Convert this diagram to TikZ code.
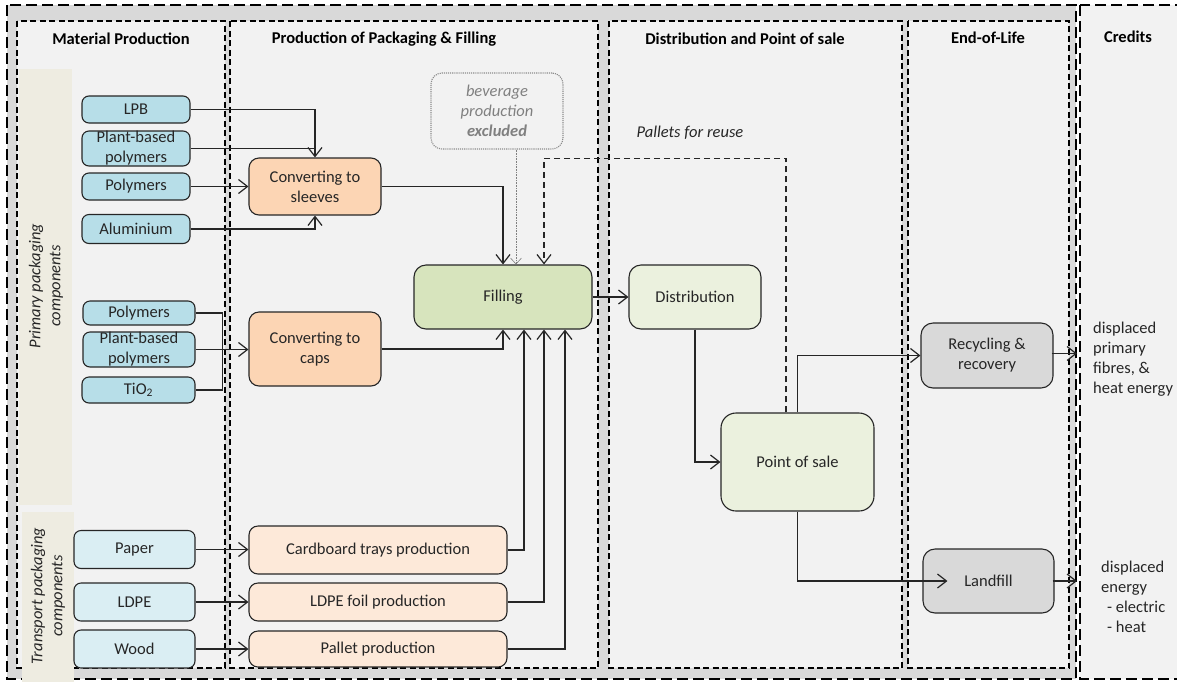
\documentclass[tikz,border=0pt]{standalone}
\usepackage{fontspec}
\setmainfont{Carlito}
\usepackage{tikz}
\usetikzlibrary{arrows.meta,positioning}

\definecolor{txtdark}{HTML}{262626}
\definecolor{outergray}{HTML}{D9D9D9}
\definecolor{panelgray}{HTML}{F2F2F2}
\definecolor{sidebeige}{HTML}{EEECE1}
\definecolor{matblue}{HTML}{B7DEE8}
\definecolor{matlight}{HTML}{DAEEF3}
\definecolor{convorange}{HTML}{FCD5B4}
\definecolor{prodorange}{HTML}{FDE9D9}
\definecolor{fillgreen}{HTML}{D7E4BD}
\definecolor{distgreen}{HTML}{EBF1DE}
\definecolor{eolgray}{HTML}{D9D9D9}
\newcommand{\nodefont}{\fontsize{16.5}{20}\selectfont}

\begin{document}
\begin{tikzpicture}[x=1pt,y=-1pt,
		paneldash/.style={dash pattern=on 6pt off 3.5pt, line width=1.3pt},
		outerdash/.style={dash pattern=on 11pt off 5pt, line width=1.4pt},
		box/.style={draw=txtdark, line width=1.1pt, rounded corners=7pt, align=center, inner sep=0pt, font=\nodefont, text=txtdark},
		matbox/.style={box, fill=matblue, minimum width=108pt},
		tpbox/.style={box, fill=matlight, minimum width=121pt, minimum height=38pt},
		convbox/.style={box, fill=convorange, rounded corners=10pt, minimum width=132pt},
		prodbox/.style={box, fill=prodorange, rounded corners=9pt, minimum width=258pt},
		greenbox/.style={box, rounded corners=12pt},
		eolbox/.style={box, fill=eolgray, rounded corners=12pt, minimum width=132pt, minimum height=65pt},
		head/.style={font=\bfseries\nodefont, text=black},
		sidelabel/.style={rotate=90, align=center, font=\itshape\nodefont, text=txtdark},
		credit/.style={anchor=west, align=left, inner sep=0pt, font=\nodefont, text=txtdark},
		flow/.style={draw=txtdark, line width=1.2pt, -{Straight Barb[length=9pt,width=14pt]}},
		link/.style={draw=txtdark, line width=1.2pt}]
		\useasboundingbox (0,0) rectangle (1177,681);
		\clip (0,0) rectangle (1177,681);
		\fill[white] (0,0) rectangle (1177,681);
		\draw[outerdash, fill=outergray] (7,5) rectangle (1076,679);
		\draw[outerdash, fill=panelgray] (1080,5) rectangle (1195,679);
		\draw[paneldash, fill=panelgray] (17,21) rectangle (225,668);
		\draw[paneldash, fill=panelgray] (230,21) rectangle (598,668);
		\draw[paneldash, fill=panelgray] (609,21) rectangle (902,668);
		\draw[paneldash, fill=panelgray] (908,21) rectangle (1069,668);
		\fill[sidebeige] (19,69) rectangle (72,505);
		\fill[sidebeige] (22,512) rectangle (74,685);

		\node[head] (hmat) at (121,39) {Material Production};
		\node[head] (hprod) at (384,39) {Production of Packaging \& Filling};
		\node[head] (hdist) at (745,39) {Distribution and Point of sale};
		\node[head] (heol) at (988,38) {End-of-Life};
		\node[head] (hcred) at (1128,37) {Credits};
		\node[sidelabel] (lprim) at (46,286) {Primary packaging\\components};
		\node[sidelabel] (ltrans) at (48,596) {Transport packaging\\components};

		\node[matbox, minimum height=27pt] (lpb) at (136,109.5) {LPB};
		\node[matbox, minimum height=35pt] (pbp) at (136,148.5) {Plant-based\\polymers};
		\node[matbox, minimum height=27pt] (poly) at (136,186.5) {Polymers};
		\node[matbox, minimum height=29pt] (alu) at (136,229) {Aluminium};
		\node[matbox, minimum width=112pt, minimum height=24pt] (polyc) at (139,313) {Polymers};
		\node[matbox, minimum width=112pt, minimum height=35pt] (pbpc) at (139,349.5) {Plant-based\\polymers};
		\node[matbox, minimum width=113pt, minimum height=26pt] (tio) at (138.5,390) {TiO\textsubscript{2}};
		\node[tpbox] (paper) at (134.5,549.5) {Paper};
		\node[tpbox] (ldpe) at (134.5,602) {LDPE};
		\node[tpbox] (wood) at (134.5,649) {Wood};

		\node[convbox, minimum height=57pt] (sleeves) at (315,186.5) {Converting to\\sleeves};
		\node[convbox, minimum height=74pt] (caps) at (315,349) {Converting to\\caps};
		\node[prodbox, minimum height=48pt] (trays) at (378,550) {Cardboard trays production};
		\node[prodbox, minimum height=38pt] (foil) at (378,602) {LDPE foil production};
		\node[prodbox, minimum height=36pt] (pallet) at (378,649) {Pallet production};
		\node[greenbox, fill=fillgreen, minimum width=178pt, minimum height=64pt] (filling) at (503,297) {Filling};
		\node[draw=gray!90, densely dotted, line width=1.1pt, rounded corners=11pt, minimum width=132pt, minimum height=76pt, align=center, inner sep=0pt, text=gray, font=\itshape\nodefont] (excl) at (497,111) {beverage\\production\\\textbf{excluded}};

		\node[greenbox, fill=distgreen, minimum width=132pt, minimum height=64pt] (distr) at (695,297) {Distribution};
		\node[greenbox, fill=distgreen, rounded corners=15pt, minimum width=153pt, minimum height=98pt] (pos) at (797.5,462) {Point of sale};
		\node[font=\itshape\nodefont, text=txtdark] (reuse) at (690,133) {Pallets for reuse};
		\node[eolbox] (recyc) at (987,355.5) {Recycling \&\\recovery};
		\node[eolbox, minimum width=131pt, minimum height=64pt] (landfill) at (988.5,581) {Landfill};
		\node[credit] (cfib) at (1093,359) {displaced\\primary\\fibres, \&\\heat energy};
		\node[credit] (cen) at (1101,596.5) {displaced\\energy\\\hspace*{6pt}- electric\\\hspace*{6pt}- heat};
		\coordinate (credin) at (1077,0);

		\draw[flow] (lpb.east) -| (sleeves.north);
		\draw[link] (pbp.east) -- (pbp.east -| sleeves.north);
		\draw[flow] (poly.east) -- (poly.east -| sleeves.west);
		\draw[flow] (alu.east) -| (sleeves.south);
		\draw[link] (polyc.east) -- ++(27,0) coordinate (capsjoin) -- (capsjoin |- tio.east) -- (tio.east);
		\draw[flow] (pbpc.east) -- (pbpc.east -| caps.west);
		\draw[flow] (paper.east) -- (paper.east -| trays.west);
		\draw[flow] (ldpe.east) -- (foil.west);
		\draw[flow] (wood.east) -- (pallet.west);

		\draw[flow] (sleeves.east) -| (filling.north);
		\draw[flow] (caps.east) -| (filling.south);
		\draw[flow] (trays.east) -| ([xshift=21pt]filling.south);
		\draw[flow] (foil.east) -| ([xshift=41pt]filling.south);
		\draw[flow] (pallet.east) -| ([xshift=62pt]filling.south);
		\draw[gray, line width=0.6pt, densely dotted, -{Straight Barb[length=6pt,width=11pt]}] ([xshift=19pt]excl.south) -- ([xshift=13pt]filling.north);
		\draw[flow, dashed, dash pattern=on 6pt off 4pt] ([xshift=-11.5pt]pos.north) -- ++(0,-254) -| ([xshift=41pt]filling.north);

		\draw[flow] (filling.east) -- (distr.west);
		\draw[flow] (distr.south) |- (pos.west);
		\draw[flow] (pos.north) |- (recyc.west);
		\draw[flow] (pos.south) |- ([xshift=25pt]landfill.west);
		\draw[flow] ([xshift=-2pt,yshift=2pt]recyc.east) -- ([yshift=2pt]recyc.east -| credin);
		\draw[flow] ([xshift=-2pt]landfill.east) -- (landfill.east -| credin);
	\end{tikzpicture}
\end{document}
